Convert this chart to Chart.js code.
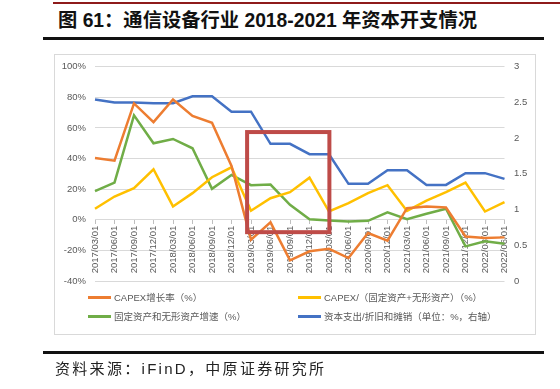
<!DOCTYPE html>
<html>
<head>
<meta charset="utf-8">
<script src="https://cdn.jsdelivr.net/npm/chart.js"></script>
<style>
  body { margin: 0; width: 560px; height: 389px; background: #fff; position: relative; overflow: hidden;
         font-family: "Liberation Sans", "Noto Sans CJK SC", sans-serif; }
  #redline { position: absolute; left: 53px; top: 2px; width: 507px; height: 2px; background: #8e1b1b; }
  #title { position: absolute; left: 58px; top: 8px; font-size: 19.3px; font-weight: bold; color: #111; white-space: nowrap; line-height: 26px; }
  #rule1 { position: absolute; left: 43px; top: 37px; width: 501px; height: 3px; background: #111; }
  #box { position: absolute; left: 54px; top: 54px; width: 480px; height: 279px; border: 1px solid #d9d9d9; }
  #chartSanPham { position: absolute; left: 0; top: 0; }
  #legend { position: absolute; left: 0; top: 0; font-size: 9.5px; color: #595959; }
  .item { position: absolute; display: flex; align-items: center; white-space: nowrap; height: 12px; }
  .item i { display: inline-block; width: 23px; height: 3px; margin-right: 3px; }
  #rule2 { position: absolute; left: 43px; top: 351px; width: 501px; height: 3px; background: #111; }
  #source { position: absolute; left: 55px; top: 359px; font-size: 15px; letter-spacing: 2.3px; color: #222; white-space: nowrap; line-height: 20px; }
</style>
</head>
<body>
  <div id="redline"></div>
  <div id="title">图 61：通信设备行业 2018-2021 年资本开支情况</div>
  <div id="rule1"></div>
  <div id="box"></div>

  <!-- canvas vẽ biểu đồ -->
  <canvas id="chartSanPham" width="560" height="389"></canvas>
  <div id="legend"></div>

  <div id="rule2"></div>
  <div id="source">资料来源：iFinD，中原证券研究所</div>

<script>
  // Dữ liệu
  const quarters = ['2017/03/01', '2017/06/01', '2017/09/01', '2017/12/01', '2018/03/01', '2018/06/01',
    '2018/09/01', '2018/12/01', '2019/03/01', '2019/06/01', '2019/09/01', '2019/12/01', '2020/03/01',
    '2020/06/01', '2020/09/01', '2020/12/01', '2021/03/01', '2021/06/01', '2021/09/01', '2021/12/01',
    '2022/03/01', '2022/06/01'];
  const seriesNames = ['CAPEX增长率（%）', 'CAPEX/（固定资产+无形资产）（%）',
    '固定资产和无形资产增速（%）', '资本支出/折旧和摊销（单位：%，右轴）'];
  const capexGrowth = [40.4, 38.6, 76.0, 63.8, 78.6, 67.8, 63.4, 35.2, -13.0, -1.7, -26.5,
    -20.6, -19.0, -25.0, -8.7, -13.7, 7.6, 8.7, 8.0, -10.9, -11.9, -11.5];
  const capexRatio = [7.2, 15.2, 20.6, 33.0, 8.7, 17.4, 27.8, 34.3, 5.9, 14.1, 18.0,
    27.5, 5.4, 10.9, 17.4, 22.6, 5.8, 12.5, 18.0, 24.3, 5.4, 11.5];
  const assetGrowth = [18.7, 24.3, 68.2, 50.0, 52.8, 46.7, 20.2, 29.3, 22.6, 23.0, 9.8,
    0.4, -0.4, -1.1, -0.7, 4.8, 0.4, 3.9, 7.2, -17.4, -14.1, -15.6];
  const capexToDa = [2.54, 2.50, 2.50, 2.49, 2.49, 2.585, 2.585, 2.37, 2.37, 1.92, 1.92,
    1.775, 1.775, 1.36, 1.36, 1.55, 1.55, 1.345, 1.345, 1.51, 1.51, 1.43];
  const leftTicks = [-40, -20, 0, 20, 40, 60, 80, 100];
  const rightTicks = [0, 0.5, 1, 1.5, 2, 2.5, 3];

  // khung đỏ (theo chỉ số quý và giá trị trục trái)
  const highlight = { from: 7.8, to: 12.02, top: 57.3, bottom: -8.1 };

  const colors = ['#ED7D31', '#FFC000', '#70AD47', '#4472C4'];
  const tickFont = { family: 'Liberation Sans, Noto Sans CJK SC', size: 9.5 };

  const redBox = {
    id: 'redBox',
    afterDatasetsDraw(chart) {
      const { ctx, scales: { x, y } } = chart;
      const l = x.getPixelForValue(highlight.from), r = x.getPixelForValue(highlight.to);
      const t = y.getPixelForValue(highlight.top), b = y.getPixelForValue(highlight.bottom);
      ctx.save();
      ctx.strokeStyle = '#BE4B48';
      ctx.lineWidth = 4;
      ctx.strokeRect(l, t, r - l, b - t);
      ctx.restore();
    }
  };

  const mk = (i, data, axis) => ({
    label: seriesNames[i], data: data, yAxisID: axis,
    borderColor: colors[i], backgroundColor: colors[i],
    borderWidth: 2.5, pointRadius: 0, tension: 0, fill: false
  });

  var ctx = document.getElementById('chartSanPham').getContext('2d');
  var chart = new Chart(ctx, {
    type: 'line',
    data: {
      labels: quarters,
      datasets: [
        mk(0, capexGrowth, 'y'),
        mk(1, capexRatio, 'y'),
        mk(2, assetGrowth, 'y'),
        mk(3, capexToDa, 'y1')
      ]
    },
    plugins: [redBox],
    options: {
      responsive: false,
      animation: false,
      layout: { padding: { left: 55, right: 25.5, top: 66.7, bottom: 108 } },
      plugins: { legend: { display: false }, tooltip: { enabled: false } },
      scales: {
        x: {
          position: { y: 0 },
          offset: false,
          grid: { drawOnChartArea: false, drawTicks: true, tickLength: 4, color: '#bfbfbf' },
          border: { display: true, color: '#d9d9d9' },
          ticks: { autoSkip: false, minRotation: 90, maxRotation: 90, padding: 2, color: '#595959', font: tickFont }
        },
        y: {
          position: 'left',
          min: -40, max: 100,
          afterFit: s => { s.width = 40; },
          afterBuildTicks: s => { s.ticks = leftTicks.map(v => ({ value: v })); },
          grid: { color: '#d9d9d9', drawTicks: false },
          border: { display: false },
          ticks: { padding: 9, color: '#595959', font: tickFont, callback: v => v + '%' }
        },
        y1: {
          position: 'right',
          min: 0, max: 3,
          afterFit: s => { s.width = 30; },
          afterBuildTicks: s => { s.ticks = rightTicks.map(v => ({ value: v })); },
          grid: { display: false, drawTicks: false },
          border: { display: false },
          ticks: { padding: 9.5, color: '#595959', font: tickFont, callback: v => String(v) }
        }
      }
    }
  });

  // chú thích 2 cột
  const legendPos = [[88, 291], [298, 291], [88, 310], [298, 310]];
  const legend = document.getElementById('legend');
  chart.data.datasets.forEach((ds, i) => {
    const el = document.createElement('div');
    el.className = 'item';
    el.style.left = legendPos[i][0] + 'px';
    el.style.top = legendPos[i][1] + 'px';
    el.innerHTML = '<i style="background:' + ds.borderColor + '"></i><span></span>';
    el.querySelector('span').textContent = ds.label;
    legend.appendChild(el);
  });
</script>
</body>
</html>
